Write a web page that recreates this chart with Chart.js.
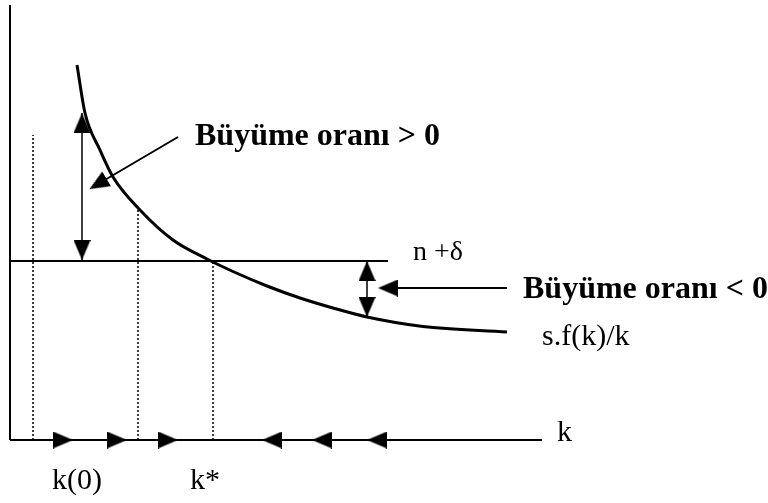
<!DOCTYPE html>
<html>
<head>
<meta charset="utf-8">
<script src="https://cdn.jsdelivr.net/npm/chart.js@4/dist/chart.umd.min.js"></script>
<style>
  html, body { margin: 0; padding: 0; background: #fff; }
  #wrap { width: 768px; height: 503px; position: relative; }
</style>
</head>
<body>
<div id="wrap"><canvas id="solow"></canvas></div>
<script>
"use strict";

// s.f(k)/k curve
const curveK = [1.34, 1.5, 1.8, 2.06, 2.6, 3.26, 3.94, 4.46, 5.14, 5.8, 6.46, 7.14, 8.26, 9.94];
const curveY = [7.5, 6.54, 5.8, 5.26, 4.6, 4.0, 3.62, 3.37, 3.08, 2.84, 2.64, 2.46, 2.27, 2.16];

// n + delta line
const nDelta = 3.58;
const nDeltaEnd = 7.56;

// axes extent
const axisKMax = 10.64;
const axisYMax = 8.7;

// dotted guides: k value and top height
const guideK = [0.46, 2.56, 4.06];
const guideTop = [6.1, 4.64, 3.58];

// arrows along the k axis
const rightArrowK = [1.06, 2.14, 3.16];
const leftArrowK = [5.24, 6.24, 7.34];

// vertical double arrows (growth rate gaps)
const gapK = [1.44, 7.14];
const gapTop = [6.54, 3.58];
const gapBottom = [3.58, 2.46];
const gapUpHead = [6.34, 3.38];
const gapDownHead = [3.8, 2.66];

// pointer lines from the labels
const pointerPos = { from: [3.36, 6.06], to: [1.76, 5.12] };
const pointerNeg = { from: [9.94, 3.04], to: [7.56, 3.04] };

// tick labels under the k axis
const tickLabels = ["k(0)", "k*"];
const tickK = [1.34, 3.9];

const textLabels = [
  { text: "Büyüme oranı > 0", k: 3.7, y: 5.9, font: "bold 32px 'Liberation Serif'", align: "left" },
  { text: "Büyüme oranı < 0", k: 10.26, y: 2.84, font: "bold 32px 'Liberation Serif'", align: "left" },
  { text: "n +δ", k: 8.06, y: 3.6, font: "28px 'Liberation Serif'", align: "left" },
  { text: "s.f(k)/k", k: 10.64, y: 1.9, font: "30px 'Liberation Serif'", align: "left" },
  { text: "k", k: 10.94, y: -0.02, font: "30px 'Liberation Serif'", align: "left" }
];

// arrow head as a small canvas, tip pointing up
var makeHead = function (w, h) {
  var c = document.createElement("canvas");
  c.width = w;
  c.height = h;
  var g = c.getContext("2d");
  g.fillStyle = "#000";
  g.beginPath();
  g.moveTo(w / 2, 0);
  g.lineTo(w, h);
  g.lineTo(0, h);
  g.closePath();
  g.fill();
  return c;
};
const head = makeHead(17, 20);

var pts = function (xs, ys) {
  return xs.map(function (x, i) { return { x: x, y: ys[i] }; });
};

var segment = function (a, b, width, dash) {
  return {
    data: [{ x: a[0], y: a[1] }, { x: b[0], y: b[1] }],
    showLine: true, borderColor: "#000", borderWidth: width,
    borderDash: dash || [], pointRadius: 0, clip: false
  };
};

var heads = function (points, rotation) {
  return {
    data: points, showLine: false, pointStyle: head, pointRadius: 5,
    rotation: rotation, clip: false
  };
};

var datasets = [];

// axes
datasets.push(segment([0, 0], [axisKMax, 0], 2));
datasets.push(segment([0, 0], [0, axisYMax], 2));

// dotted guides
guideK.forEach(function (k, i) {
  datasets.push(segment([k, 0], [k, guideTop[i]], 1.5, [2, 2]));
});

// n + delta
datasets.push(segment([0, nDelta], [nDeltaEnd, nDelta], 2));

// curve
datasets.push({
  data: pts(curveK, curveY), showLine: true, borderColor: "#000", borderWidth: 3,
  cubicInterpolationMode: "monotone", pointRadius: 0, clip: false
});

// gap arrows
gapK.forEach(function (k, i) {
  datasets.push(segment([k, gapTop[i]], [k, gapBottom[i]], 1.5));
});
datasets.push(heads(pts(gapK, gapUpHead), 0));
datasets.push(heads(pts(gapK, gapDownHead), 180));

// pointers
datasets.push(segment(pointerPos.from, pointerPos.to, 2));
datasets.push(heads([{ x: pointerPos.to[0], y: pointerPos.to[1] }], 239));
datasets.push(segment(pointerNeg.from, pointerNeg.to, 2));
datasets.push(heads([{ x: pointerNeg.to[0], y: pointerNeg.to[1] }], 270));

// k axis arrows
datasets.push(heads(rightArrowK.map(function (k) { return { x: k, y: 0 }; }), 90));
datasets.push(heads(leftArrowK.map(function (k) { return { x: k, y: 0 }; }), 270));

const labelPlugin = {
  id: "labels",
  afterDatasetsDraw: function (chart) {
    var ctx = chart.ctx;
    var sx = chart.scales.x;
    var sy = chart.scales.y;
    ctx.save();
    ctx.fillStyle = "#000";
    ctx.textBaseline = "alphabetic";
    textLabels.forEach(function (t) {
      ctx.font = t.font;
      ctx.textAlign = t.align;
      ctx.fillText(t.text, sx.getPixelForValue(t.k), sy.getPixelForValue(t.y));
    });
    ctx.font = "30px 'Liberation Serif'";
    ctx.textAlign = "center";
    tickLabels.forEach(function (lab, i) {
      ctx.fillText(lab, sx.getPixelForValue(tickK[i]), sy.getPixelForValue(-0.98));
    });
    ctx.restore();
  }
};

new Chart(document.getElementById("solow"), {
  type: "scatter",
  data: { datasets: datasets },
  options: {
    responsive: true,
    maintainAspectRatio: false,
    animation: false,
    events: [],
    layout: { padding: 0, autoPadding: false },
    plugins: { legend: { display: false }, tooltip: { enabled: false } },
    scales: {
      x: { type: "linear", display: false, min: -0.2, max: 15.16 },
      y: { type: "linear", display: false, min: -1.26, max: 8.8 }
    }
  },
  plugins: [labelPlugin]
});
</script>
</body>
</html>
